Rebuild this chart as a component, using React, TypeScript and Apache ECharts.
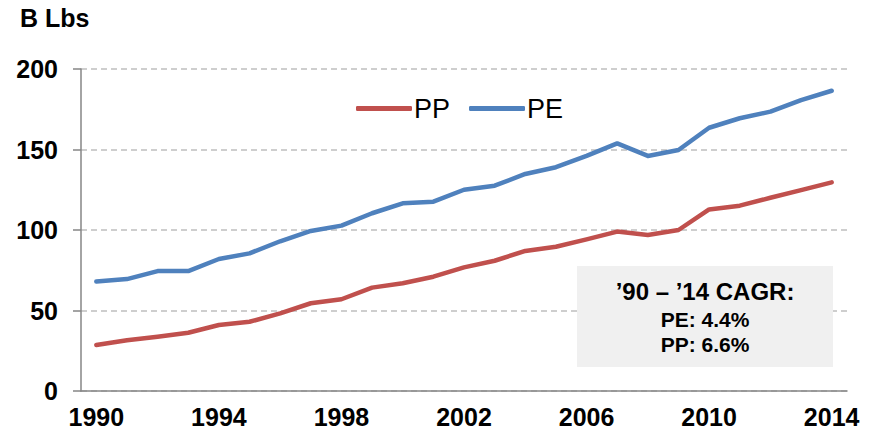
import React, { useEffect, useRef } from "react";
import * as echarts from "echarts";

const years = [
  "1990", "1991", "1992", "1993", "1994", "1995", "1996", "1997", "1998", "1999",
  "2000", "2001", "2002", "2003", "2004", "2005", "2006", "2007", "2008", "2009",
  "2010", "2011", "2012", "2013", "2014",
];
const ppValues = [
  28.6, 31.5, 33.7, 36.2, 41, 43, 48.2, 54.5, 57, 64.2,
  66.9, 71, 76.8, 80.9, 87, 89.6, 94.2, 99, 96.9, 100,
  112.8, 115.1, 120, 124.8, 129.6,
];
const peValues = [
  68, 69.5, 74.5, 74.5, 82, 85.5, 93, 99.4, 102.7, 110.4,
  116.6, 117.6, 125, 127.5, 134.8, 139, 146, 153.8, 146, 149.7,
  163.5, 169.4, 173.5, 180.7, 186.5,
];
const seriesNames = ["PP", "PE"];
const unitLabel = "B Lbs";
const noteLines = ["\u201990 \u2013 \u201914 CAGR:", "PE: 4.4%", "PP: 6.6%"];

const FONT = "'Liberation Sans', Arial, sans-serif";

export default function App() {
  const ref = useRef<HTMLDivElement>(null);
  useEffect(() => {
    if (!ref.current) return;
    const chart = echarts.init(ref.current, undefined, { renderer: "svg" });
    chart.setOption({
      animation: false,
      textStyle: { fontFamily: FONT },
      grid: { left: 81, right: 27, top: 69, bottom: 44, containLabel: false },
      legend: {
        data: seriesNames,
        left: 351,
        top: 90,
        icon: "roundRect",
        itemWidth: 56,
        itemHeight: 5,
        itemGap: 19,
        textStyle: { fontSize: 27, color: "#000", fontFamily: FONT, padding: [0, 0, 0, -3] },
      },
      xAxis: {
        type: "category",
        data: years,
        boundaryGap: true,
        axisLine: { lineStyle: { color: "#868686", width: 1.5 } },
        axisTick: { interval: 0, length: 7, lineStyle: { color: "#868686", width: 1.5 } },
        axisLabel: {
          interval: 3,
          margin: 13,
          fontSize: 25,
          fontWeight: "bold",
          color: "#000",
          fontFamily: FONT,
        },
        splitLine: { show: false },
      },
      yAxis: {
        type: "value",
        min: 0,
        max: 200,
        interval: 50,
        axisLine: { show: true, lineStyle: { color: "#868686", width: 1.5 } },
        axisTick: { show: true, length: 8, lineStyle: { color: "#868686", width: 1.5 } },
        axisLabel: {
          margin: 23,
          fontSize: 25,
          fontWeight: "bold",
          color: "#000",
          fontFamily: FONT,
        },
        splitLine: { lineStyle: { color: "#bfbfbf", type: [6, 4], width: 1.5 } },
      },
      series: [
        {
          name: seriesNames[0],
          type: "line",
          data: ppValues,
          symbol: "none",
          color: "#C0504D",
          lineStyle: { width: 4.5, color: "#C0504D", cap: "round", join: "round" },
        },
        {
          name: seriesNames[1],
          type: "line",
          data: peValues,
          symbol: "none",
          color: "#4F81BD",
          lineStyle: { width: 4.5, color: "#4F81BD", cap: "round", join: "round" },
        },
      ],
      graphic: [
        {
          type: "text",
          left: 20,
          top: 5,
          style: { text: unitLabel, fontSize: 25, fontWeight: "bold", fill: "#000", fontFamily: FONT },
        },
        {
          type: "rect",
          shape: { x: 577, y: 266, width: 256, height: 101 },
          style: { fill: "#f0f0f0" },
          z: 10,
        },
        {
          type: "text",
          x: 705,
          y: 291,
          z: 11,
          style: {
            text: noteLines[0], fontSize: 24, fontWeight: "bold", fill: "#000",
            fontFamily: FONT, align: "center", verticalAlign: "middle",
          },
        },
        {
          type: "text",
          x: 705,
          y: 319,
          z: 11,
          style: {
            text: noteLines[1], fontSize: 21, fontWeight: "bold", fill: "#000",
            fontFamily: FONT, align: "center", verticalAlign: "middle",
          },
        },
        {
          type: "text",
          x: 705,
          y: 344,
          z: 11,
          style: {
            text: noteLines[2], fontSize: 21, fontWeight: "bold", fill: "#000",
            fontFamily: FONT, align: "center", verticalAlign: "middle",
          },
        },
      ],
    });
    return () => chart.dispose();
  }, []);
  return <div ref={ref} style={{ width: 874, height: 435, position: "absolute", left: 0, top: 0 }} />;
}
